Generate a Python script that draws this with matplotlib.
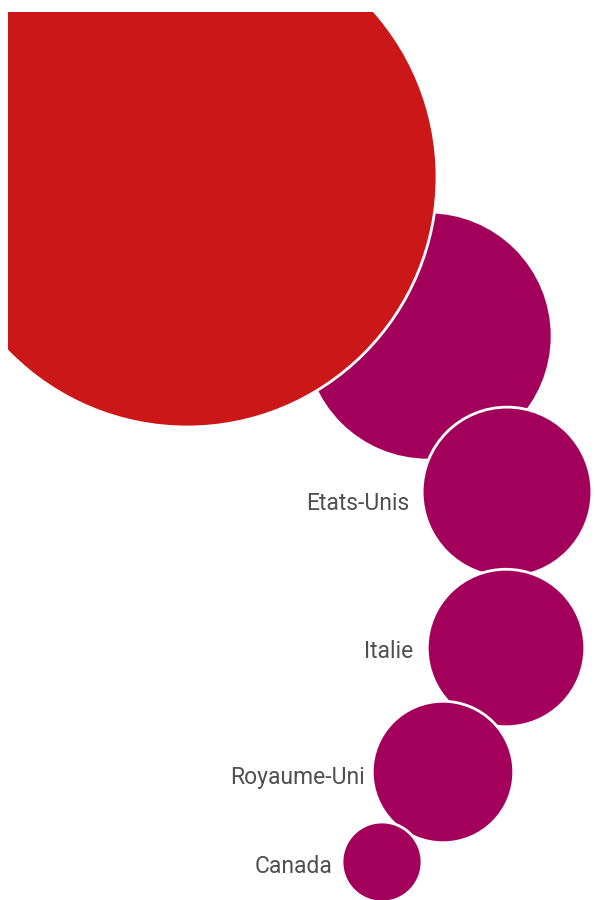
import matplotlib.pyplot as plt
from matplotlib.patches import Circle
import numpy as np

# data: relative sizes (area) of each bubble, labels shown next to them
labels = ["", "", "Etats-Unis", "Italie", "Royaume-Uni", "Canada"]
values = [625, 154, 72, 62, 50, 16]
colors = ["#cc1719", "#a3005c", "#a3005c", "#a3005c", "#a3005c", "#a3005c"]

# layout (pixel space, y pointing down)
centers_x = [187, 428, 507, 506, 443, 382]
centers_y = [177, 336, 492, 648, 772, 862]
draw_order = [2, 1, 3, 4, 5, 6]
label_gap = [0, 0, 13, 14, 7, 9]
label_dy = [0, 0, 18, 10, 12, 11]   # baseline below circle centre

PX_PER_UNIT = 10.0  # radius in px = sqrt(value) * 10


def main():
    fig = plt.figure(figsize=(5.95, 9.0), dpi=100)
    ax = fig.add_axes([8 / 595, 0, 587 / 595, 888 / 900])
    ax.set_xlim(8, 595)
    ax.set_ylim(900, 12)
    ax.set_aspect("equal")
    ax.axis("off")

    radii = np.sqrt(values) * PX_PER_UNIT
    for i, r in enumerate(radii):
        ax.add_patch(Circle((centers_x[i], centers_y[i]), r,
                            facecolor=colors[i], edgecolor="white",
                            linewidth=2, zorder=draw_order[i]))
        if labels[i]:
            ax.text(centers_x[i] - r - label_gap[i], centers_y[i] + label_dy[i],
                    labels[i], ha="right", va="baseline", fontsize=16.5,
                    family="Roboto", color="#505050", zorder=10)

    fig.savefig("out.png", dpi=100)
    plt.close(fig)


if __name__ == "__main__":
    main()
